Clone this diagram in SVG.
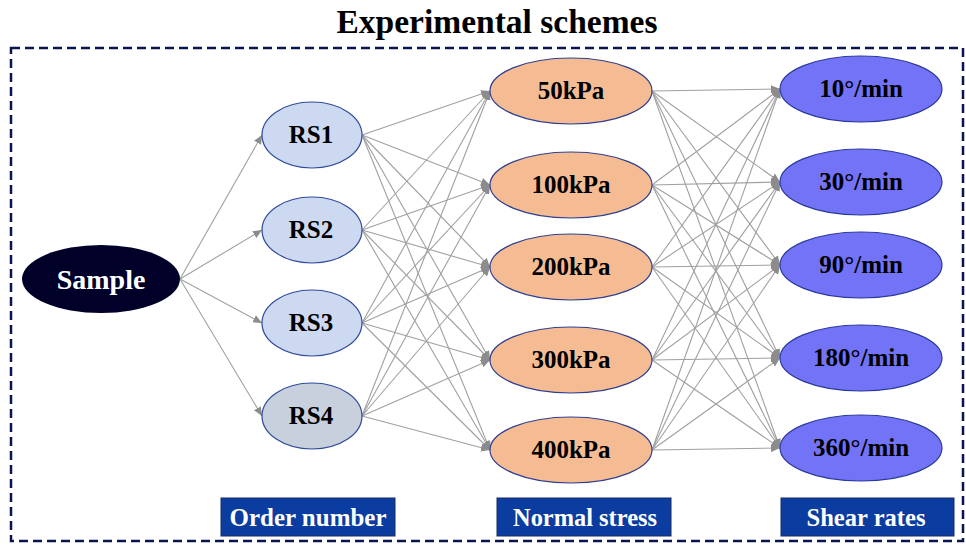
<svg xmlns="http://www.w3.org/2000/svg" width="966" height="545" viewBox="0 0 966 545">
<defs>
<marker id="ah" markerUnits="userSpaceOnUse" markerWidth="10" markerHeight="8" refX="9" refY="4" orient="auto">
<path d="M0,0 L9,4 L0,8 Z" fill="#8c8c8c"/>
</marker>
<style>
.t{font-family:"Liberation Serif","Times New Roman",serif;font-weight:bold;text-anchor:middle;}
.n{fill:#000;font-size:25px;}
.rs{fill:#cdd9f0;stroke:#2f4a9a;stroke-width:1.2;}
.st{fill:#f5bc93;stroke:#2f3f8f;stroke-width:1.2;}
.rt{fill:#7373f7;stroke:#2a3a9a;stroke-width:1.2;}
.lb{fill:#0b3ca0;stroke:#1a2a60;stroke-width:1;}
.lt{fill:#fff;font-size:25px;}
#edges line{stroke:#a0a0a0;stroke-width:1.1;marker-end:url(#ah);}
</style>
</defs>
<rect width="966" height="545" fill="#fff"/>
<text class="t" x="497" y="33" font-size="33.5" fill="#000">Experimental schemes</text>
<rect x="11" y="48" width="952" height="493" fill="none" stroke="#0a1450" stroke-width="2.5" stroke-dasharray="9 5"/>
<g id="edges">
<line x1="180" y1="279" x2="262" y2="135"/>
<line x1="180" y1="279" x2="262" y2="230"/>
<line x1="180" y1="279" x2="262" y2="323"/>
<line x1="180" y1="279" x2="262" y2="416"/>
<line x1="362" y1="135" x2="490" y2="91"/>
<line x1="362" y1="135" x2="490" y2="185"/>
<line x1="362" y1="135" x2="490" y2="267"/>
<line x1="362" y1="135" x2="490" y2="360"/>
<line x1="362" y1="135" x2="490" y2="450"/>
<line x1="362" y1="230" x2="490" y2="91"/>
<line x1="362" y1="230" x2="490" y2="185"/>
<line x1="362" y1="230" x2="490" y2="267"/>
<line x1="362" y1="230" x2="490" y2="360"/>
<line x1="362" y1="230" x2="490" y2="450"/>
<line x1="362" y1="323" x2="490" y2="91"/>
<line x1="362" y1="323" x2="490" y2="185"/>
<line x1="362" y1="323" x2="490" y2="267"/>
<line x1="362" y1="323" x2="490" y2="360"/>
<line x1="362" y1="323" x2="490" y2="450"/>
<line x1="362" y1="416" x2="490" y2="91"/>
<line x1="362" y1="416" x2="490" y2="185"/>
<line x1="362" y1="416" x2="490" y2="267"/>
<line x1="362" y1="416" x2="490" y2="360"/>
<line x1="362" y1="416" x2="490" y2="450"/>
<line x1="652" y1="91" x2="780" y2="89"/>
<line x1="652" y1="91" x2="780" y2="182"/>
<line x1="652" y1="91" x2="780" y2="265"/>
<line x1="652" y1="91" x2="780" y2="358"/>
<line x1="652" y1="91" x2="780" y2="448"/>
<line x1="652" y1="185" x2="780" y2="89"/>
<line x1="652" y1="185" x2="780" y2="182"/>
<line x1="652" y1="185" x2="780" y2="265"/>
<line x1="652" y1="185" x2="780" y2="358"/>
<line x1="652" y1="185" x2="780" y2="448"/>
<line x1="652" y1="267" x2="780" y2="89"/>
<line x1="652" y1="267" x2="780" y2="182"/>
<line x1="652" y1="267" x2="780" y2="265"/>
<line x1="652" y1="267" x2="780" y2="358"/>
<line x1="652" y1="267" x2="780" y2="448"/>
<line x1="652" y1="360" x2="780" y2="89"/>
<line x1="652" y1="360" x2="780" y2="182"/>
<line x1="652" y1="360" x2="780" y2="265"/>
<line x1="652" y1="360" x2="780" y2="358"/>
<line x1="652" y1="360" x2="780" y2="448"/>
<line x1="652" y1="450" x2="780" y2="89"/>
<line x1="652" y1="450" x2="780" y2="182"/>
<line x1="652" y1="450" x2="780" y2="265"/>
<line x1="652" y1="450" x2="780" y2="358"/>
<line x1="652" y1="450" x2="780" y2="448"/>
</g>
<g id="sample"><ellipse cx="101" cy="279" rx="79" ry="34" fill="#000028"/><text class="t" x="101" y="289" font-size="28" fill="#fff">Sample</text></g>
<g id="rs1"><ellipse class="rs" cx="312" cy="135" rx="50" ry="33"/><text class="t n" x="311" y="143" font-size="24">RS1</text></g>
<g id="rs2"><ellipse class="rs" cx="312" cy="230" rx="50" ry="33"/><text class="t n" x="311" y="238" font-size="24">RS2</text></g>
<g id="rs3"><ellipse class="rs" cx="312" cy="323" rx="50" ry="33"/><text class="t n" x="311" y="331" font-size="24">RS3</text></g>
<g id="rs4"><ellipse class="rs" cx="312" cy="416" rx="50" ry="33" style="fill:#c9d0dd"/><text class="t n" x="311" y="424" font-size="24">RS4</text></g>
<g id="p50"><ellipse class="st" cx="571" cy="91" rx="81" ry="33"/><text class="t n" x="571" y="99">50kPa</text></g>
<g id="p100"><ellipse class="st" cx="571" cy="185" rx="81" ry="33"/><text class="t n" x="571" y="193">100kPa</text></g>
<g id="p200"><ellipse class="st" cx="571" cy="267" rx="81" ry="33"/><text class="t n" x="571" y="275">200kPa</text></g>
<g id="p300"><ellipse class="st" cx="571" cy="360" rx="81" ry="33"/><text class="t n" x="571" y="368">300kPa</text></g>
<g id="p400"><ellipse class="st" cx="571" cy="450" rx="81" ry="33"/><text class="t n" x="571" y="458">400kPa</text></g>
<g id="r10"><ellipse class="rt" cx="861" cy="89" rx="81" ry="33"/><text class="t n" x="861" y="97">10°/min</text></g>
<g id="r30"><ellipse class="rt" cx="861" cy="182" rx="81" ry="33"/><text class="t n" x="861" y="190">30°/min</text></g>
<g id="r90"><ellipse class="rt" cx="861" cy="265" rx="81" ry="33"/><text class="t n" x="861" y="273">90°/min</text></g>
<g id="r180"><ellipse class="rt" cx="861" cy="358" rx="81" ry="33"/><text class="t n" x="861" y="366">180°/min</text></g>
<g id="r360"><ellipse class="rt" cx="861" cy="448" rx="81" ry="33"/><text class="t n" x="861" y="456">360°/min</text></g>
<g id="lbl-order"><rect class="lb" x="221" y="498" width="174" height="38"/><text class="t lt" x="308" y="526" textLength="157" lengthAdjust="spacingAndGlyphs">Order number</text></g>
<g id="lbl-normal"><rect class="lb" x="497" y="498" width="174" height="38"/><text class="t lt" x="585" y="526" textLength="144" lengthAdjust="spacingAndGlyphs">Normal stress</text></g>
<g id="lbl-shear"><rect class="lb" x="781" y="498" width="173" height="38"/><text class="t lt" x="866" y="526" textLength="119" lengthAdjust="spacingAndGlyphs">Shear rates</text></g>
</svg>
